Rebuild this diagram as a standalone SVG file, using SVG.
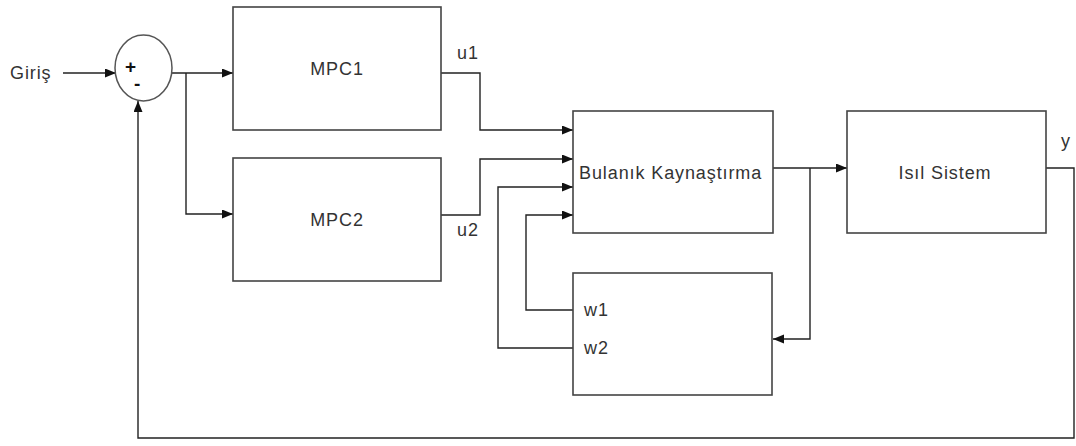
<svg xmlns="http://www.w3.org/2000/svg" width="1076" height="446" viewBox="0 0 1076 446">
<style>
.box{fill:#fff;stroke:#444;stroke-width:1.6}
.ln{fill:none;stroke:#222;stroke-width:1.4}
.t{font-family:"Liberation Sans",Arial,sans-serif;font-size:18px;fill:#333;letter-spacing:0.9px}
.s{font-family:"Liberation Sans",Arial,sans-serif;font-size:19px;font-weight:bold;fill:#111}
</style>
<defs>
<marker id="arr" markerUnits="userSpaceOnUse" markerWidth="12" markerHeight="10" refX="11" refY="4.5" orient="auto">
<path d="M0,0 L11,4.5 L0,9 z" fill="#111"/>
</marker>
</defs>
<rect width="1076" height="446" fill="#fff"/>
<g id="connectors">
<path class="ln" d="M63,73 L116,73" marker-end="url(#arr)"/>
<path class="ln" d="M172,73 L233,73" marker-end="url(#arr)"/>
<path class="ln" d="M186,73 L186,214 L233,214" marker-end="url(#arr)"/>
<path class="ln" d="M441,73 L480,73 L480,130 L573,130" marker-end="url(#arr)"/>
<path class="ln" d="M441,215 L480,215 L480,159 L573,159" marker-end="url(#arr)"/>
<path class="ln" d="M573,310 L526,310 L526,215 L573,215" marker-end="url(#arr)"/>
<path class="ln" d="M573,348 L498,348 L498,187 L573,187" marker-end="url(#arr)"/>
<path class="ln" d="M773,168 L847,168" marker-end="url(#arr)"/>
<path class="ln" d="M810,168 L810,339 L773,339" marker-end="url(#arr)"/>
<path class="ln" d="M1046,168 L1074,168 L1074,438 L138,438 L138,101" marker-end="url(#arr)"/>
</g>
<g id="giris"><text class="t" x="10" y="79">Giriş</text></g>
<g id="sum">
<ellipse cx="143.5" cy="68" rx="28.5" ry="33" fill="#fff" stroke="#555" stroke-width="1.5"/>
<text class="s" x="125" y="73">+<tspan x="134" y="90">-</tspan></text>
</g>
<g id="mpc1"><rect class="box" x="233" y="7" width="208" height="123"/><text class="t" x="337" y="75" text-anchor="middle">MPC1</text></g>
<g id="mpc2"><rect class="box" x="233" y="158" width="208" height="123"/><text class="t" x="337" y="226" text-anchor="middle">MPC2</text></g>
<g id="u1"><text class="t" x="457" y="59">u1</text></g>
<g id="u2"><text class="t" x="457" y="236">u2</text></g>
<g id="fusion"><rect class="box" x="573" y="111" width="200" height="122"/><text class="t" x="579" y="179">Bulanık Kaynaştırma</text></g>
<g id="weights"><rect class="box" x="573" y="273" width="199" height="122"/><text class="t" x="584" y="316">w1</text><text class="t" x="584" y="354">w2</text></g>
<g id="isil"><rect class="box" x="847" y="111" width="199" height="122"/><text class="t" x="945" y="179" text-anchor="middle">Isıl Sistem</text></g>
<g id="y"><text class="t" x="1061" y="147">y</text></g>
</svg>
